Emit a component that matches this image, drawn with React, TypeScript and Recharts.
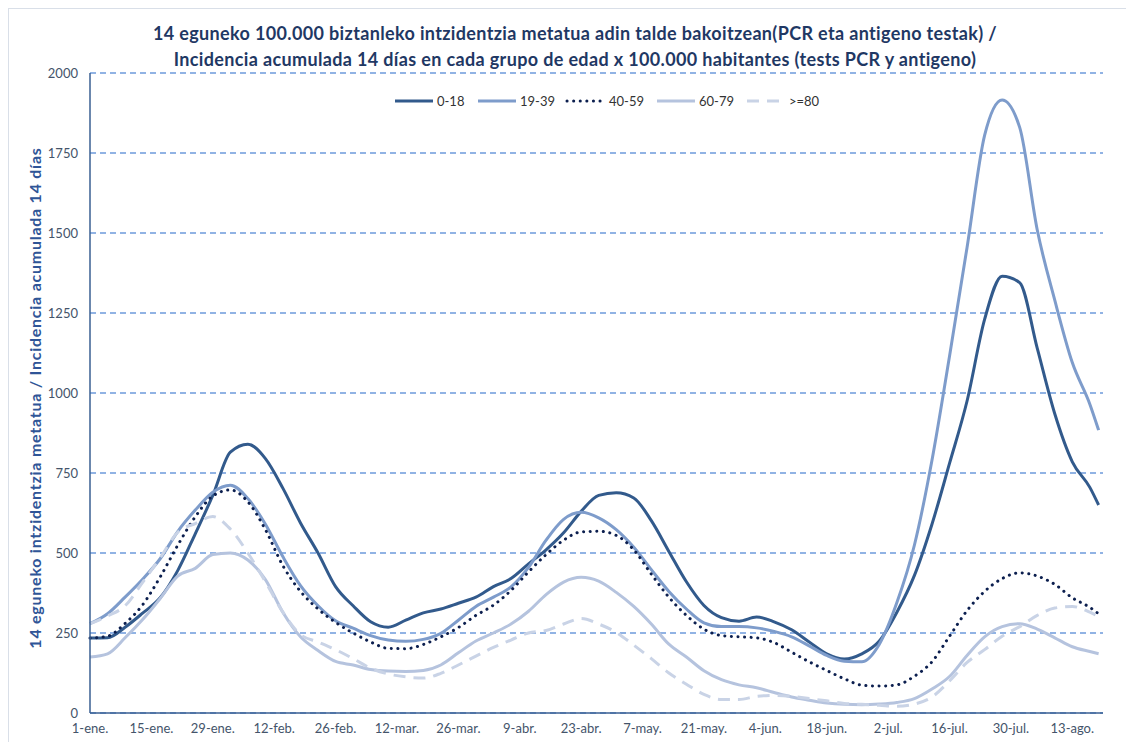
import { LineChart, Line, XAxis, YAxis, CartesianGrid, Legend } from "recharts";

// day index counted from 1 January
const days = [
  0, 4, 8, 12, 16, 20, 24, 28, 32, 36, 40, 44, 48, 52, 56, 60, 64, 68, 72, 76,
  80, 84, 88, 92, 96, 100, 104, 108, 112, 116, 120, 124, 128, 132, 136, 140, 144, 148, 152, 156,
  160, 164, 168, 172, 176, 180, 184, 188, 192, 196, 200, 204, 208, 212, 216, 220, 224, 228, 230,
];

const age0_18 = [
  234, 235, 268, 312, 360, 445, 560, 680, 815, 840, 795, 702, 594, 500, 395, 335, 285, 268, 290, 313,
  325, 343, 362, 395, 420, 466, 510, 563, 630, 680, 688, 672, 601, 505, 410, 336, 298, 287, 300, 285,
  260, 222, 185, 169, 185, 225, 315, 430, 590, 780, 975, 1230, 1365, 1345, 1140, 935, 785, 705, 650,
];

const age19_39 = [
  279, 310, 362, 418, 482, 567, 634, 690, 712, 670, 590, 488, 398, 335, 288, 265, 242, 228, 224, 230,
  249, 290, 333, 362, 394, 455, 540, 605, 627, 610, 573, 518, 448, 380, 325, 282, 270, 270, 266, 255,
  238, 210, 180, 162, 160, 215, 345, 525, 790, 1115, 1455, 1805, 1916, 1830, 1510, 1290, 1095, 965, 884,
];

const age40_59 = [
  234, 240, 280, 338, 425, 524, 613, 678, 697, 660, 573, 460, 380, 325, 283, 250, 222, 202, 201, 214,
  238, 267, 305, 337, 383, 441, 495, 540, 566, 568, 555, 510, 434, 362, 305, 262, 242, 238, 235, 220,
  190, 160, 133, 107, 87, 84, 88, 115, 160, 240, 320, 380, 420, 438, 428, 402, 360, 330, 310,
];

const age60_79 = [
  175, 185, 235, 292, 358, 428, 452, 495, 500, 478, 417, 314, 238, 195, 161, 150, 136, 131, 130, 133,
  150, 188, 225, 250, 278, 318, 370, 409, 424, 412, 377, 333, 278, 215, 175, 132, 104, 88, 79, 64,
  50, 40, 31, 27, 26, 28, 33, 45, 75, 114, 180, 238, 270, 279, 262, 235, 207, 192, 185,
];

const age80 = [
  279, 303, 335, 408, 485, 565, 592, 614, 575, 500, 410, 315, 245, 222, 198, 170, 140, 122, 113, 109,
  124, 150, 178, 205, 228, 250, 258, 278, 295, 278, 252, 212, 170, 125, 90, 58, 42, 42, 52, 55,
  52, 45, 38, 30, 27, 24, 21, 28, 50, 100, 158, 198, 240, 270, 305, 328, 333, 315, 302,
];

const tickDays = [0, 14, 28, 42, 56, 70, 84, 98, 112, 126, 140, 154, 168, 182, 196, 210, 224];
const tickLabels = [
  "1-ene.", "15-ene.", "29-ene.", "12-feb.", "26-feb.", "12-mar.", "26-mar.", "9-abr.", "23-abr.",
  "7-may.", "21-may.", "4-jun.", "18-jun.", "2-jul.", "16-jul.", "30-jul.", "13-ago.",
];
const yTicks = [0, 250, 500, 750, 1000, 1250, 1500, 1750, 2000];

const data = days.map((d, i) => ({
  day: d,
  a: age0_18[i],
  b: age19_39[i],
  c: age40_59[i],
  d: age60_79[i],
  e: age80[i],
}));

const FONT = "Lato, 'Open Sans', sans-serif";

const series = [
  { key: "a", name: "0-18", color: "#325A8C", dash: undefined, cap: "butt" },
  { key: "b", name: "19-39", color: "#7E9CCB", dash: undefined, cap: "butt" },
  { key: "c", name: "40-59", color: "#0C1F4F", dash: "0.1 6.5", cap: "round" },
  { key: "d", name: "60-79", color: "#B5C3DE", dash: undefined, cap: "butt" },
  { key: "e", name: ">=80", color: "#C9D3E6", dash: "12 8", cap: "butt" },
];

// measured left offsets of each legend entry
const legendX = [384, 467, 556, 646, 736];

function renderLegend() {
  return (
    <div style={{ position: "relative", width: 1125, height: 20, fontFamily: FONT, fontSize: 13, color: "#333" }}>
      {series.map((s, i) => (
        <div key={s.key} style={{ position: "absolute", left: legendX[i], top: 0, display: "flex", alignItems: "center", height: 20 }}>
          <svg width={42} height={20}>
            <line
              x1={2}
              y1={10}
              x2={40}
              y2={10}
              stroke={s.color}
              strokeWidth={3}
              strokeDasharray={s.dash}
              strokeLinecap={s.cap as any}
            />
          </svg>
          <span style={{ marginLeft: 2 }}>{s.name}</span>
        </div>
      ))}
    </div>
  );
}

export default function App() {
  return (
    <div
      style={{
        position: "relative",
        width: 1126,
        height: 734,
        boxSizing: "border-box",
        borderLeft: "1px solid #D9DFE8",
        borderTop: "1px solid #D9DFE8",
        fontFamily: FONT,
      }}
    >
      <div
        style={{
          position: "absolute",
          left: -9,
          top: 11,
          width: 1150,
          textAlign: "center",
          fontSize: 18,
          letterSpacing: 0.35,
          lineHeight: "26px",
          fontWeight: 700,
          color: "#1F3864",
        }}
      >
        14 eguneko 100.000 biztanleko intzidentzia metatua adin talde bakoitzean(PCR eta antigeno testak) /
        <br />
        Incidencia acumulada 14 días en cada grupo de edad x 100.000 habitantes (tests PCR y antigeno)
      </div>
      <div
        style={{
          position: "absolute",
          left: 26 - 300,
          top: 389 - 10,
          width: 600,
          height: 20,
          lineHeight: "20px",
          textAlign: "center",
          transform: "rotate(-90deg)",
          fontSize: 16,
          letterSpacing: 0.75,
          fontWeight: 700,
          color: "#2F5597",
        }}
      >
        14 eguneko intzidentzia metatua / Incidencia acumulada 14 días
      </div>
      <LineChart width={1125} height={733} data={data} margin={{ top: 64, right: 31, bottom: 4, left: 0 }}>
        <CartesianGrid vertical={false} stroke="#6E9BDC" strokeDasharray="6 4" strokeWidth={1.3} />
        <XAxis
          dataKey="day"
          type="number"
          domain={[0, 231]}
          ticks={tickDays}
          interval={0}
          tickFormatter={(v) => tickLabels[tickDays.indexOf(v)]}
          height={25}
          tickLine={false}
          tickSize={6}
          tickMargin={5}
          axisLine={{ stroke: "#3A5F92", strokeWidth: 1.5 }}
          tick={{ fill: "#44546A", fontSize: 13, fontFamily: FONT }}
        />
        <YAxis
          type="number"
          domain={[0, 2000]}
          ticks={yTicks}
          interval={0}
          width={81}
          tickLine={false}
          tickSize={6}
          tickMargin={6}
          axisLine={{ stroke: "#3A5F92", strokeWidth: 1.5 }}
          tick={{ fill: "#44546A", fontSize: 13, fontFamily: FONT }}
        />
        <Legend
          content={renderLegend}
          layout="horizontal"
          verticalAlign="middle"
          align="center"
          wrapperStyle={{ position: "absolute", top: 82, left: 0, width: 1125, height: 20 }}
        />
        {series.map((s) => (
          <Line
            key={s.key}
            type="monotone"
            dataKey={s.key}
            name={s.name}
            stroke={s.color}
            strokeWidth={3}
            strokeDasharray={s.dash}
            strokeLinecap={s.cap as any}
            dot={false}
            activeDot={false}
            isAnimationActive={false}
          />
        ))}
      </LineChart>
    </div>
  );
}
